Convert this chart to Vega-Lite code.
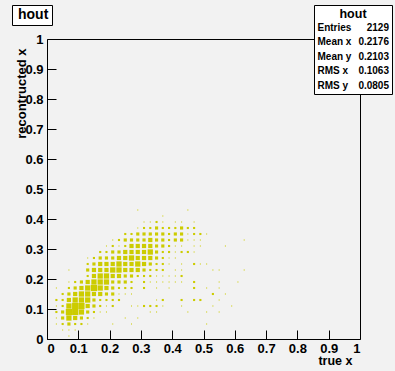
{
  "$schema": "https://vega.github.io/schema/vega-lite/v6.json",
  "width": 313,
  "height": 300,
  "autosize": {"type": "none"},
  "padding": {"left": 47, "top": 39, "right": 35, "bottom": 32},
  "background": "#f2f2f2",
  "datasets": {
    "bins": [
      {"x":0.07,"y":0.01,"n":1},
      {"x":0.05,"y":0.03,"n":1},{"x":0.07,"y":0.03,"n":1},{"x":0.09,"y":0.03,"n":1},
      {"x":0.03,"y":0.05,"n":1},{"x":0.05,"y":0.05,"n":4},{"x":0.07,"y":0.05,"n":9},{"x":0.09,"y":0.05,"n":4},{"x":0.11,"y":0.05,"n":4},{"x":0.13,"y":0.05,"n":1},{"x":0.21,"y":0.05,"n":1},{"x":0.27,"y":0.05,"n":1},{"x":0.51,"y":0.05,"n":1},
      {"x":0.03,"y":0.07,"n":1},{"x":0.05,"y":0.07,"n":9},{"x":0.07,"y":0.07,"n":25},{"x":0.09,"y":0.07,"n":16},{"x":0.11,"y":0.07,"n":9},{"x":0.13,"y":0.07,"n":4},{"x":0.15,"y":0.07,"n":1},{"x":0.25,"y":0.07,"n":1},{"x":0.29,"y":0.07,"n":1},
      {"x":0.03,"y":0.09,"n":4},{"x":0.05,"y":0.09,"n":9},{"x":0.07,"y":0.09,"n":35},{"x":0.09,"y":0.09,"n":35},{"x":0.11,"y":0.09,"n":25},{"x":0.13,"y":0.09,"n":9},{"x":0.15,"y":0.09,"n":4},{"x":0.17,"y":0.09,"n":1},{"x":0.19,"y":0.09,"n":1},{"x":0.33,"y":0.09,"n":1},{"x":0.35,"y":0.09,"n":1},{"x":0.45,"y":0.09,"n":1},{"x":0.51,"y":0.09,"n":1},{"x":0.55,"y":0.09,"n":1},
      {"x":0.03,"y":0.11,"n":1},{"x":0.05,"y":0.11,"n":4},{"x":0.07,"y":0.11,"n":25},{"x":0.09,"y":0.11,"n":35},{"x":0.11,"y":0.11,"n":35},{"x":0.13,"y":0.11,"n":16},{"x":0.15,"y":0.11,"n":9},{"x":0.17,"y":0.11,"n":4},{"x":0.19,"y":0.11,"n":1},{"x":0.21,"y":0.11,"n":4},{"x":0.27,"y":0.11,"n":1},{"x":0.29,"y":0.11,"n":1},{"x":0.31,"y":0.11,"n":4},{"x":0.33,"y":0.11,"n":4},{"x":0.35,"y":0.11,"n":4},{"x":0.37,"y":0.11,"n":1},{"x":0.43,"y":0.11,"n":1},{"x":0.53,"y":0.11,"n":1},{"x":0.59,"y":0.11,"n":1},
      {"x":0.03,"y":0.13,"n":4},{"x":0.05,"y":0.13,"n":4},{"x":0.07,"y":0.13,"n":16},{"x":0.09,"y":0.13,"n":25},{"x":0.11,"y":0.13,"n":25},{"x":0.13,"y":0.13,"n":25},{"x":0.15,"y":0.13,"n":9},{"x":0.17,"y":0.13,"n":4},{"x":0.19,"y":0.13,"n":4},{"x":0.21,"y":0.13,"n":4},{"x":0.23,"y":0.13,"n":4},{"x":0.35,"y":0.13,"n":1},{"x":0.37,"y":0.13,"n":4},{"x":0.43,"y":0.13,"n":4},{"x":0.47,"y":0.13,"n":4},{"x":0.49,"y":0.13,"n":4},{"x":0.55,"y":0.13,"n":1},
      {"x":0.05,"y":0.15,"n":4},{"x":0.07,"y":0.15,"n":9},{"x":0.09,"y":0.15,"n":16},{"x":0.11,"y":0.15,"n":25},{"x":0.13,"y":0.15,"n":25},{"x":0.15,"y":0.15,"n":16},{"x":0.17,"y":0.15,"n":16},{"x":0.19,"y":0.15,"n":9},{"x":0.21,"y":0.15,"n":9},{"x":0.23,"y":0.15,"n":1},{"x":0.25,"y":0.15,"n":1},{"x":0.27,"y":0.15,"n":1},{"x":0.53,"y":0.15,"n":4},{"x":0.57,"y":0.15,"n":1},
      {"x":0.03,"y":0.17,"n":1},{"x":0.07,"y":0.17,"n":4},{"x":0.09,"y":0.17,"n":9},{"x":0.11,"y":0.17,"n":16},{"x":0.13,"y":0.17,"n":25},{"x":0.15,"y":0.17,"n":35},{"x":0.17,"y":0.17,"n":25},{"x":0.19,"y":0.17,"n":16},{"x":0.21,"y":0.17,"n":9},{"x":0.23,"y":0.17,"n":4},{"x":0.25,"y":0.17,"n":4},{"x":0.27,"y":0.17,"n":4},{"x":0.31,"y":0.17,"n":4},{"x":0.35,"y":0.17,"n":1},{"x":0.39,"y":0.17,"n":1},{"x":0.47,"y":0.17,"n":4},{"x":0.51,"y":0.17,"n":1},{"x":0.55,"y":0.17,"n":1},
      {"x":0.07,"y":0.19,"n":1},{"x":0.09,"y":0.19,"n":4},{"x":0.11,"y":0.19,"n":9},{"x":0.13,"y":0.19,"n":16},{"x":0.15,"y":0.19,"n":25},{"x":0.17,"y":0.19,"n":25},{"x":0.19,"y":0.19,"n":25},{"x":0.21,"y":0.19,"n":9},{"x":0.23,"y":0.19,"n":9},{"x":0.25,"y":0.19,"n":9},{"x":0.27,"y":0.19,"n":4},{"x":0.31,"y":0.19,"n":4},{"x":0.33,"y":0.19,"n":1},{"x":0.35,"y":0.19,"n":1},{"x":0.37,"y":0.19,"n":1},{"x":0.39,"y":0.19,"n":1},{"x":0.41,"y":0.19,"n":1},{"x":0.43,"y":0.19,"n":1},{"x":0.47,"y":0.19,"n":4},{"x":0.55,"y":0.19,"n":1},{"x":0.61,"y":0.19,"n":1},
      {"x":0.13,"y":0.21,"n":4},{"x":0.15,"y":0.21,"n":16},{"x":0.17,"y":0.21,"n":25},{"x":0.19,"y":0.21,"n":25},{"x":0.21,"y":0.21,"n":16},{"x":0.23,"y":0.21,"n":16},{"x":0.25,"y":0.21,"n":9},{"x":0.27,"y":0.21,"n":9},{"x":0.29,"y":0.21,"n":4},{"x":0.31,"y":0.21,"n":4},{"x":0.33,"y":0.21,"n":4},{"x":0.35,"y":0.21,"n":1},{"x":0.37,"y":0.21,"n":1},{"x":0.39,"y":0.21,"n":1},{"x":0.41,"y":0.21,"n":1},{"x":0.43,"y":0.21,"n":4},
      {"x":0.07,"y":0.23,"n":1},{"x":0.13,"y":0.23,"n":9},{"x":0.15,"y":0.23,"n":16},{"x":0.17,"y":0.23,"n":16},{"x":0.19,"y":0.23,"n":16},{"x":0.21,"y":0.23,"n":25},{"x":0.23,"y":0.23,"n":25},{"x":0.25,"y":0.23,"n":16},{"x":0.27,"y":0.23,"n":16},{"x":0.29,"y":0.23,"n":16},{"x":0.31,"y":0.23,"n":9},{"x":0.33,"y":0.23,"n":4},{"x":0.35,"y":0.23,"n":4},{"x":0.37,"y":0.23,"n":4},{"x":0.41,"y":0.23,"n":1},{"x":0.43,"y":0.23,"n":1},{"x":0.53,"y":0.23,"n":1},{"x":0.55,"y":0.23,"n":1},{"x":0.63,"y":0.23,"n":1},
      {"x":0.13,"y":0.25,"n":4},{"x":0.15,"y":0.25,"n":9},{"x":0.17,"y":0.25,"n":16},{"x":0.19,"y":0.25,"n":16},{"x":0.21,"y":0.25,"n":16},{"x":0.23,"y":0.25,"n":25},{"x":0.25,"y":0.25,"n":16},{"x":0.27,"y":0.25,"n":16},{"x":0.29,"y":0.25,"n":25},{"x":0.31,"y":0.25,"n":16},{"x":0.33,"y":0.25,"n":9},{"x":0.35,"y":0.25,"n":4},{"x":0.37,"y":0.25,"n":4},{"x":0.39,"y":0.25,"n":1},{"x":0.43,"y":0.25,"n":1},{"x":0.47,"y":0.25,"n":4},{"x":0.49,"y":0.25,"n":1},{"x":0.51,"y":0.25,"n":1},
      {"x":0.13,"y":0.27,"n":1},{"x":0.15,"y":0.27,"n":4},{"x":0.17,"y":0.27,"n":9},{"x":0.19,"y":0.27,"n":9},{"x":0.21,"y":0.27,"n":9},{"x":0.23,"y":0.27,"n":16},{"x":0.25,"y":0.27,"n":16},{"x":0.27,"y":0.27,"n":25},{"x":0.29,"y":0.27,"n":16},{"x":0.31,"y":0.27,"n":16},{"x":0.33,"y":0.27,"n":16},{"x":0.35,"y":0.27,"n":9},{"x":0.37,"y":0.27,"n":4},{"x":0.39,"y":0.27,"n":1},{"x":0.41,"y":0.27,"n":1},
      {"x":0.17,"y":0.29,"n":4},{"x":0.19,"y":0.29,"n":4},{"x":0.21,"y":0.29,"n":9},{"x":0.23,"y":0.29,"n":9},{"x":0.25,"y":0.29,"n":16},{"x":0.27,"y":0.29,"n":16},{"x":0.29,"y":0.29,"n":16},{"x":0.31,"y":0.29,"n":16},{"x":0.33,"y":0.29,"n":25},{"x":0.35,"y":0.29,"n":9},{"x":0.37,"y":0.29,"n":4},{"x":0.39,"y":0.29,"n":4},{"x":0.41,"y":0.29,"n":1},{"x":0.43,"y":0.29,"n":4},{"x":0.45,"y":0.29,"n":4},{"x":0.47,"y":0.29,"n":1},
      {"x":0.19,"y":0.31,"n":1},{"x":0.21,"y":0.31,"n":4},{"x":0.23,"y":0.31,"n":1},{"x":0.25,"y":0.31,"n":4},{"x":0.27,"y":0.31,"n":16},{"x":0.29,"y":0.31,"n":16},{"x":0.31,"y":0.31,"n":16},{"x":0.33,"y":0.31,"n":16},{"x":0.35,"y":0.31,"n":9},{"x":0.37,"y":0.31,"n":9},{"x":0.39,"y":0.31,"n":4},{"x":0.41,"y":0.31,"n":1},{"x":0.43,"y":0.31,"n":1},{"x":0.47,"y":0.31,"n":1},{"x":0.49,"y":0.31,"n":1},{"x":0.57,"y":0.31,"n":1},
      {"x":0.21,"y":0.33,"n":1},{"x":0.23,"y":0.33,"n":4},{"x":0.25,"y":0.33,"n":9},{"x":0.27,"y":0.33,"n":9},{"x":0.29,"y":0.33,"n":9},{"x":0.31,"y":0.33,"n":9},{"x":0.33,"y":0.33,"n":16},{"x":0.35,"y":0.33,"n":9},{"x":0.37,"y":0.33,"n":9},{"x":0.39,"y":0.33,"n":4},{"x":0.41,"y":0.33,"n":9},{"x":0.43,"y":0.33,"n":9},{"x":0.45,"y":0.33,"n":1},{"x":0.47,"y":0.33,"n":1},{"x":0.49,"y":0.33,"n":1},{"x":0.63,"y":0.33,"n":1},
      {"x":0.25,"y":0.35,"n":4},{"x":0.27,"y":0.35,"n":4},{"x":0.29,"y":0.35,"n":9},{"x":0.31,"y":0.35,"n":9},{"x":0.33,"y":0.35,"n":9},{"x":0.35,"y":0.35,"n":9},{"x":0.37,"y":0.35,"n":9},{"x":0.39,"y":0.35,"n":4},{"x":0.41,"y":0.35,"n":9},{"x":0.43,"y":0.35,"n":9},{"x":0.45,"y":0.35,"n":1},{"x":0.47,"y":0.35,"n":4},{"x":0.49,"y":0.35,"n":4},{"x":0.51,"y":0.35,"n":1},
      {"x":0.29,"y":0.37,"n":1},{"x":0.31,"y":0.37,"n":4},{"x":0.33,"y":0.37,"n":4},{"x":0.35,"y":0.37,"n":9},{"x":0.37,"y":0.37,"n":4},{"x":0.39,"y":0.37,"n":4},{"x":0.41,"y":0.37,"n":4},{"x":0.43,"y":0.37,"n":9},{"x":0.45,"y":0.37,"n":4},{"x":0.47,"y":0.37,"n":4},
      {"x":0.31,"y":0.39,"n":1},{"x":0.33,"y":0.39,"n":1},{"x":0.35,"y":0.39,"n":4},{"x":0.37,"y":0.39,"n":1},{"x":0.41,"y":0.39,"n":1},{"x":0.43,"y":0.39,"n":1},{"x":0.47,"y":0.39,"n":1},
      {"x":0.37,"y":0.41,"n":1},
      {"x":0.29,"y":0.43,"n":1},{"x":0.45,"y":0.43,"n":1}
    ],
    "stats": [
      {"stat":"Entries","val":"2129","name":"hout"},
      {"stat":"Mean x","val":"0.2176","name":"hout"},
      {"stat":"Mean y","val":"0.2103","name":"hout"},
      {"stat":"RMS x","val":"0.1063","name":"hout"},
      {"stat":"RMS y","val":"0.0805","name":"hout"}
    ]
  },
  "layer": [
    {
      "data": {"name": "bins"},
      "mark": {"type": "square", "filled": true, "color": "#cccc00", "opacity": 1},
      "encoding": {
        "x": {"field": "x", "type": "quantitative",
          "scale": {"domain": [0, 1], "nice": false, "zero": false},
          "axis": {
            "orient": "bottom", "offset": -9, "domain": false, "zindex": 1,
            "values": [0,0.1,0.2,0.3,0.4,0.5,0.6,0.7,0.8,0.9,1],
            "tickSize": 9, "tickColor": "#000000", "tickWidth": 1,
            "grid": false,
            "labelExpr": "format(datum.value,'~g')",
            "labelPadding": 3.5,
            "title": "true x", "titleX": 305, "titleY": 34, "titleAlign": "right", "titleBaseline": "alphabetic", "titleFontSize": 12.5
          }
        },
        "y": {"field": "y", "type": "quantitative",
          "scale": {"domain": [0, 1], "nice": false, "zero": false},
          "axis": {
            "orient": "left", "offset": -9, "domain": false, "zindex": 1,
            "values": [0,0.1,0.2,0.3,0.4,0.5,0.6,0.7,0.8,0.9,1],
            "tickSize": 9, "tickColor": "#000000", "tickWidth": 1,
            "grid": false,
            "labelExpr": "format(datum.value,'~g')",
            "labelPadding": 4,
            "title": "recontructed x", "titleAngle": 270, "titleX": -30.5, "titleY": 9, "titleAlign": "right", "titleBaseline": "alphabetic", "titleFontSize": 13
          }
        },
        "size": {"field": "n", "type": "quantitative", "scale": {"domain": [0, 36], "range": [0, 40], "zero": true}, "legend": null}
      }
    },
    {
      "data": {"name": "stats"},
      "mark": {"type": "point", "opacity": 0},
      "encoding": {
        "shape": {"field": "val", "type": "nominal",
          "scale": {"domain": ["2129","0.2176","0.2103","0.1063","0.0805"]},
          "legend": {"orient": "none", "legendX": 267, "legendY": -34, "zindex": 2,
            "title": "hout", "titleAnchor": "middle", "titleFontSize": 12.5, "titlePadding": 2,
            "padding": 3, "strokeColor": "#000", "fillColor": "#ffffff",
            "labelAlign": "right", "labelOffset": 62, "labelFontSize": 10,
            "symbolSize": 0, "symbolOpacity": 0, "symbolStrokeWidth": 0, "rowPadding": 4.5}},
        "color": {"field": "stat", "type": "nominal",
          "scale": {"range": ["#000000"]},
          "legend": {"orient": "none", "legendX": 267, "legendY": -19.5, "zindex": 3,
            "title": null,
            "padding": 3, "labelAlign": "left", "labelOffset": -9.5, "labelFontSize": 10,
            "symbolSize": 0, "symbolOpacity": 0, "symbolStrokeWidth": 0, "rowPadding": 4.5}},
        "strokeDash": {"field": "name", "type": "nominal",
          "legend": {"orient": "none", "legendX": -35, "legendY": -34, "zindex": 2,
            "title": null, "padding": 3, "strokeColor": "#000", "fillColor": "#ffffff",
            "labelFontSize": 14, "labelOffset": -11,
            "symbolSize": 0, "symbolOpacity": 0, "symbolStrokeWidth": 0}}
      }
    }
  ],
  "config": {
    "font": "Liberation Sans",
    "view": {"stroke": "#000000", "strokeWidth": 1, "fill": null},
    "axis": {
      "labelFont": "Liberation Sans", "labelFontWeight": "bold", "labelFontSize": 13, "labelColor": "#000000",
      "titleFont": "Liberation Sans", "titleFontWeight": "bold", "titleColor": "#000000"
    },
    "legend": {
      "labelFont": "Liberation Sans", "labelFontWeight": "bold", "labelColor": "#000000",
      "titleFont": "Liberation Sans", "titleFontWeight": "bold", "titleColor": "#000000"
    }
  }
}
